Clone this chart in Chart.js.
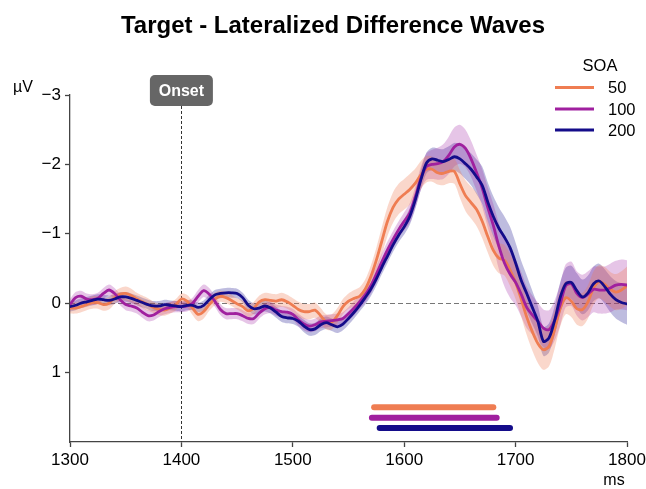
<!DOCTYPE html>
<html><head><meta charset="utf-8">
<script src="https://cdn.jsdelivr.net/npm/chart.js@4.4.1/dist/chart.umd.min.js"></script>
<style>html,body{margin:0;padding:0;background:#fff}#wrap{width:646px;height:489px;position:relative}</style>
</head><body><div id="wrap"><canvas id="c" width="646" height="489"></canvas></div>
<script>
// ---- data (ms sampling grid, every 5 ms from 1300 to 1800) ----
const times = Array.from({length: 101}, (_, i) => 1300 + 5 * i);
const soaLabels = ['50', '100', '200'];
const legendTitle = 'SOA';
const titleText = 'Target - Lateralized Difference Waves';
const onsetTime = 1400;
const xTicks = [1300, 1400, 1500, 1600, 1700, 1800];
const yTicks = [-3, -2, -1, 0, 1];

const soa50 = [0.07,0.07,0.05,0.02,-0.01,-0.01,0.02,0.00,-0.08,-0.13,
  -0.14,-0.11,-0.06,-0.02,0.02,0.06,0.09,0.10,0.07,0.02,
  -0.06,-0.03,0.07,0.16,0.12,0.02,-0.06,-0.10,-0.08,-0.04,
  0.01,0.05,0.11,0.07,-0.02,-0.05,-0.04,-0.03,-0.05,-0.02,
  0.03,0.09,0.12,0.12,0.10,0.18,0.27,0.27,0.18,0.05,
  -0.03,-0.07,-0.10,-0.20,-0.38,-0.62,-0.90,-1.18,-1.38,-1.50,
  -1.57,-1.64,-1.73,-1.85,-1.93,-1.93,-1.88,-1.87,-1.90,-1.90,
  -1.72,-1.55,-1.45,-1.35,-1.18,-0.96,-0.76,-0.65,-0.62,-0.48,
  -0.30,-0.06,0.20,0.41,0.58,0.67,0.62,0.38,0.08,-0.08,
  -0.03,0.08,0.09,-0.02,-0.22,-0.31,-0.27,-0.20,-0.16,-0.19,-0.25];
const soa100 = [0.02,-0.08,-0.10,-0.06,-0.05,-0.07,-0.14,-0.19,-0.14,-0.05,
  0.02,0.04,0.07,0.13,0.18,0.17,0.12,0.08,0.06,0.05,
  0.05,0.04,0.00,-0.10,-0.18,-0.13,-0.03,0.09,0.15,0.15,
  0.15,0.18,0.22,0.22,0.14,0.08,0.06,0.10,0.12,0.13,
  0.16,0.24,0.30,0.33,0.31,0.27,0.26,0.25,0.24,0.22,
  0.15,0.07,-0.02,-0.12,-0.25,-0.42,-0.60,-0.77,-0.92,-1.06,
  -1.18,-1.30,-1.53,-1.80,-1.97,-2.00,-2.01,-2.04,-2.13,-2.25,
  -2.29,-2.23,-2.08,-1.88,-1.66,-1.38,-1.12,-0.82,-0.58,-0.42,
  -0.30,-0.13,0.06,0.17,0.26,0.36,0.38,0.25,0.02,-0.25,
  -0.28,-0.14,-0.08,-0.13,-0.20,-0.19,-0.19,-0.22,-0.26,-0.27,-0.26];
const soa200 = [0.05,0.03,0.00,-0.02,-0.04,-0.06,-0.05,-0.04,-0.06,-0.09,
  -0.09,-0.07,-0.04,-0.01,0.02,0.04,0.04,0.02,0.03,0.04,
  0.05,0.03,0.03,0.06,0.03,-0.05,-0.12,-0.14,-0.15,-0.15,
  -0.14,-0.08,0.03,0.08,0.07,0.04,0.07,0.13,0.19,0.21,
  0.22,0.26,0.33,0.38,0.37,0.31,0.28,0.31,0.34,0.30,
  0.22,0.13,0.03,-0.08,-0.20,-0.35,-0.52,-0.68,-0.84,-0.98,
  -1.10,-1.25,-1.49,-1.78,-2.02,-2.08,-2.06,-2.04,-2.07,-2.11,
  -2.08,-2.01,-1.93,-1.82,-1.70,-1.46,-1.25,-1.08,-0.95,-0.80,
  -0.58,-0.33,-0.14,0.06,0.26,0.55,0.50,0.25,-0.08,-0.28,
  -0.30,-0.18,-0.09,-0.15,-0.28,-0.32,-0.24,-0.13,-0.05,-0.01,0.01];

// standard-error half widths of the shaded bands
const sem50 = [0.08,0.08,0.08,0.08,0.09,0.09,0.09,0.09,0.09,0.09,
  0.10,0.10,0.09,0.09,0.09,0.08,0.08,0.08,0.08,0.08,
  0.08,0.09,0.10,0.10,0.10,0.09,0.09,0.08,0.08,0.08,
  0.08,0.09,0.09,0.09,0.09,0.10,0.10,0.10,0.10,0.10,
  0.10,0.11,0.11,0.11,0.11,0.11,0.11,0.11,0.11,0.11,
  0.11,0.12,0.13,0.14,0.16,0.18,0.20,0.21,0.22,0.22,
  0.22,0.22,0.21,0.20,0.19,0.18,0.17,0.17,0.17,0.18,
  0.20,0.22,0.23,0.24,0.24,0.23,0.22,0.22,0.22,0.23,
  0.24,0.25,0.26,0.27,0.28,0.29,0.29,0.28,0.26,0.24,
  0.23,0.23,0.24,0.24,0.24,0.24,0.25,0.25,0.26,0.27,0.28];
const sem100 = [0.08,0.08,0.08,0.08,0.08,0.08,0.08,0.08,0.08,0.08,
  0.08,0.08,0.08,0.08,0.08,0.08,0.08,0.08,0.08,0.08,
  0.08,0.08,0.08,0.09,0.09,0.09,0.08,0.08,0.08,0.08,
  0.08,0.08,0.08,0.08,0.08,0.08,0.08,0.08,0.08,0.08,
  0.08,0.09,0.09,0.09,0.09,0.09,0.09,0.09,0.09,0.09,
  0.09,0.10,0.10,0.11,0.11,0.12,0.12,0.12,0.12,0.12,
  0.13,0.14,0.15,0.17,0.19,0.21,0.23,0.25,0.27,0.28,
  0.28,0.27,0.26,0.26,0.27,0.29,0.31,0.33,0.34,0.34,
  0.33,0.32,0.30,0.28,0.27,0.27,0.28,0.29,0.30,0.31,
  0.32,0.32,0.33,0.33,0.33,0.34,0.34,0.35,0.35,0.36,0.36];
const sem200 = [0.07,0.07,0.07,0.07,0.07,0.07,0.07,0.07,0.07,0.07,
  0.07,0.07,0.07,0.07,0.07,0.07,0.07,0.07,0.07,0.07,
  0.07,0.07,0.07,0.07,0.07,0.07,0.07,0.07,0.07,0.07,
  0.07,0.07,0.08,0.08,0.08,0.08,0.08,0.08,0.08,0.08,
  0.08,0.08,0.09,0.09,0.09,0.09,0.09,0.09,0.09,0.09,
  0.09,0.09,0.09,0.10,0.10,0.10,0.10,0.10,0.10,0.10,
  0.11,0.12,0.13,0.14,0.15,0.16,0.17,0.18,0.19,0.20,
  0.21,0.22,0.23,0.25,0.27,0.28,0.29,0.30,0.30,0.30,
  0.29,0.28,0.26,0.24,0.22,0.21,0.21,0.21,0.22,0.23,
  0.24,0.25,0.25,0.25,0.25,0.25,0.25,0.26,0.27,0.28,0.30];

// significant clusters (start ms, end ms) and their row level in µV
const sigStart = [1573, 1571, 1578];
const sigEnd = [1680, 1683, 1695];
const sigLevel = [1.5, 1.65, 1.8];

// ---- styling ----
const colors = ['#ef7d52', '#a0209f', '#140c8a'];
const bandColors = ['rgba(237,121,83,0.3)', 'rgba(156,23,158,0.25)', 'rgba(13,8,135,0.27)'];
const FONT = "'Liberation Sans', Arial, Helvetica, sans-serif";

const means = [soa50, soa100, soa200];
const sems = [sem50, sem100, sem200];
const pts = arr => times.map((t, i) => ({x: t, y: arr[i]}));

const datasets = [];
means.forEach((m, k) => {
  const s = sems[k];
  datasets.push({data: pts(m.map((v, i) => v - s[i])), borderWidth: 0, borderColor: 'rgba(0,0,0,0)',
    pointRadius: 0, fill: false, tension: 0.3, order: 20});
  datasets.push({data: pts(m.map((v, i) => v + s[i])), borderWidth: 0, borderColor: 'rgba(0,0,0,0)',
    backgroundColor: bandColors[k], pointRadius: 0, fill: '-1', tension: 0.3, order: 20});
});
means.forEach((m, k) => {
  datasets.push({data: pts(m), borderColor: colors[k], borderWidth: 2.8, pointRadius: 0,
    fill: false, tension: 0.3, order: 5 - k, borderCapStyle: 'round', borderJoinStyle: 'round'});
});
sigStart.forEach((s, k) => {
  datasets.push({data: [{x: s, y: sigLevel[k]}, {x: sigEnd[k], y: sigLevel[k]}], borderColor: colors[k],
    borderWidth: 6, pointRadius: 0, fill: false, borderCapStyle: 'round', order: 0});
});

const deco = {
  id: 'deco',
  beforeDatasetsDraw(chart) {
    const {ctx, chartArea: a, scales: {x, y}} = chart;
    ctx.save();
    ctx.strokeStyle = '#777'; ctx.lineWidth = 1; ctx.setLineDash([5, 3]);
    const y0 = Math.round(y.getPixelForValue(0)) + 0.5;
    ctx.beginPath(); ctx.moveTo(a.left, y0); ctx.lineTo(a.right, y0); ctx.stroke();
    ctx.strokeStyle = '#333'; ctx.setLineDash([3, 2]);
    const xo = Math.round(x.getPixelForValue(onsetTime)) + 0.5;
    ctx.beginPath(); ctx.moveTo(xo, a.top - 14); ctx.lineTo(xo, a.bottom); ctx.stroke();
    ctx.restore();
  },
  afterDraw(chart) {
    const {ctx, chartArea: a, scales: {x}} = chart;
    ctx.save();
    // title
    ctx.fillStyle = '#000'; ctx.font = 'bold 24px ' + FONT; ctx.textAlign = 'center'; ctx.textBaseline = 'alphabetic';
    ctx.fillText(titleText, 333, 33);
    // onset box
    const xo = x.getPixelForValue(onsetTime);
    const bw = 63, bh = 31, bx = xo - bw / 2, by = a.top - 20;
    ctx.fillStyle = '#666';
    ctx.beginPath(); ctx.roundRect(bx, by, bw, bh, 5); ctx.fill();
    ctx.fillStyle = '#fff'; ctx.font = 'bold 16px ' + FONT; ctx.textBaseline = 'middle';
    ctx.fillText('Onset', xo, by + bh / 2 + 1);
    // axis unit labels
    ctx.fillStyle = '#000'; ctx.font = '16px ' + FONT;
    ctx.fillText('\u00b5V', 23, 88);
    ctx.fillText('ms', 614, 481);
    // legend
    ctx.font = '16.5px ' + FONT;
    ctx.fillText(legendTitle, 600, 66);
    ctx.textAlign = 'left';
    const ly = [87.5, 109, 130];
    soaLabels.forEach((lab, k) => {
      ctx.strokeStyle = colors[k]; ctx.lineWidth = 3;
      ctx.beginPath(); ctx.moveTo(555, ly[k]); ctx.lineTo(594, ly[k]); ctx.stroke();
      ctx.fillStyle = '#000';
      ctx.fillText(lab, 608, ly[k] + 1);
    });
    ctx.restore();
  }
};

const minus = v => (v < 0 ? '\u2212' + Math.abs(v) : String(v));

new Chart(document.getElementById('c'), {
  type: 'line',
  data: {datasets},
  options: {
    responsive: false, animation: false, devicePixelRatio: 1,
    layout: {padding: {left: 0, top: 95, right: 19, bottom: 0}},
    plugins: {legend: {display: false}, tooltip: {enabled: false}, title: {display: false}},
    scales: {
      x: {type: 'linear', min: 1300, max: 1800,
        afterBuildTicks: s => { s.ticks = xTicks.map(v => ({value: v})); },
        afterFit: s => { s.height = 47; s.paddingRight = 0; s.paddingLeft = 0; },
        ticks: {callback: v => String(v), color: '#000', font: {family: FONT, size: 17}, padding: 3, maxRotation: 0},
        grid: {drawOnChartArea: false, drawTicks: true, tickLength: 5, tickColor: '#444', tickWidth: 1.3},
        border: {display: true, color: '#444', width: 1.3}},
      y: {type: 'linear', reverse: true, min: -3, max: 2,
        afterBuildTicks: s => { s.ticks = yTicks.map(v => ({value: v})); },
        afterFit: s => { s.width = 70; s.paddingTop = 0; s.paddingBottom = 0; },
        ticks: {callback: v => minus(v), color: '#000', font: {family: FONT, size: 17}, padding: 4},
        grid: {drawOnChartArea: false, drawTicks: true, tickLength: 5, tickColor: '#444', tickWidth: 1.3},
        border: {display: true, color: '#444', width: 1.3}}
    }
  },
  plugins: [deco]
});
</script></body></html>
